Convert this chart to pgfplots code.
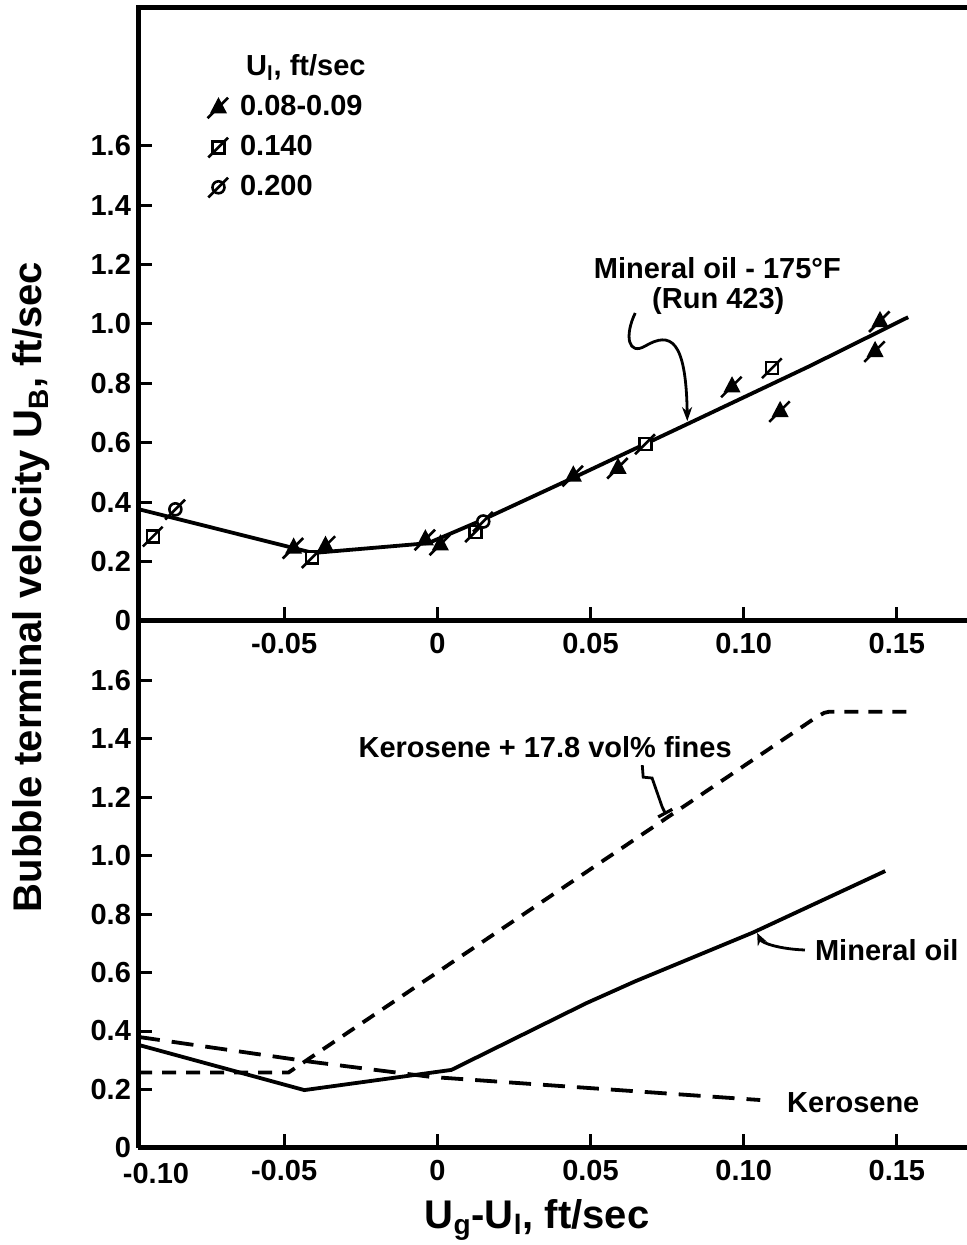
\documentclass[border=0pt]{standalone}
\usepackage{fontspec}
\setmainfont{Liberation Sans}
\usepackage{pgfplots}
\pgfplotsset{compat=1.18}
\usetikzlibrary{arrows.meta}

\newcommand{\tl}{\bfseries\fontsize{14.5}{17}\selectfont}
\newcommand{\al}{\bfseries\fontsize{20}{24}\selectfont}

\pgfdeclareplotmark{trislash}{%
  \pgfpathmoveto{\pgfpoint{0pt}{1.15\pgfplotmarksize}}%
  \pgfpathlineto{\pgfpoint{-\pgfplotmarksize}{-0.75\pgfplotmarksize}}%
  \pgfpathlineto{\pgfpoint{\pgfplotmarksize}{-0.75\pgfplotmarksize}}%
  \pgfpathclose
  \pgfusepathqfillstroke
  \pgfpathmoveto{\pgfpoint{-1.7\pgfplotmarksize}{-1.7\pgfplotmarksize}}%
  \pgfpathlineto{\pgfpoint{1.5\pgfplotmarksize}{1.5\pgfplotmarksize}}%
  \pgfusepathqstroke
}
\pgfdeclareplotmark{sqslash}{%
  \pgfpathrectanglecorners{\pgfpoint{-\pgfplotmarksize}{-\pgfplotmarksize}}{\pgfpoint{\pgfplotmarksize}{\pgfplotmarksize}}%
  \pgfusepathqfillstroke
  \pgfpathmoveto{\pgfpoint{-1.7\pgfplotmarksize}{-1.7\pgfplotmarksize}}%
  \pgfpathlineto{\pgfpoint{1.6\pgfplotmarksize}{1.6\pgfplotmarksize}}%
  \pgfusepathqstroke
}
\pgfdeclareplotmark{circslash}{%
  \pgfpathcircle{\pgfpointorigin}{\pgfplotmarksize}%
  \pgfusepathqfillstroke
  \pgfpathmoveto{\pgfpoint{-1.7\pgfplotmarksize}{-1.7\pgfplotmarksize}}%
  \pgfpathlineto{\pgfpoint{1.6\pgfplotmarksize}{1.6\pgfplotmarksize}}%
  \pgfusepathqstroke
}

\pgfplotsset{panel/.style={
  scale only axis, width=414.5pt,
  xmin=-0.0977, xmax=0.1729, ymin=0,
  axis x line*=bottom, axis y line*=left,
  axis line style={line width=2.5pt,-,black},
  tick align=inside,
  major tick length=7pt,
  every tick/.append style={line width=1.5pt,black},
  tick label style={font=\tl},
  xticklabel style={yshift=-2.5pt},
  ytick={0,0.2,0.4,0.6,0.8,1.0,1.2,1.4,1.6},
  yticklabels={0,0.2,0.4,0.6,0.8,1.0,1.2,1.4,1.6},
  clip=false,
}}

\begin{document}
\begin{tikzpicture}
% ---------------- bottom panel ----------------
\begin{axis}[panel, at={(0pt,0pt)}, anchor=south west, height=263.5pt, ymax=1.802,
  xtick={-0.05,0,0.05,0.10,0.15},
  xticklabels={-0.05,0,0.05,0.10,0.15},
  extra x ticks={-0.0977},
  extra x tick labels={-0.10},
  extra x tick style={xticklabel style={xshift=9pt, yshift=-1.5pt}}]
% Mineral oil
\addplot[line width=1.9pt, forget plot] coordinates {
 (-0.0977,0.353) (-0.0434,0.198) (0.0046,0.267) (0.0486,0.495)
 (0.0646,0.570) (0.1031,0.737) (0.1462,0.947)};
% Kerosene
\addplot[line width=1.9pt, dash pattern=on 11pt off 6pt, forget plot] coordinates {
 (-0.0977,0.380) (-0.0414,0.295) (-0.002,0.243) (0.1054,0.164)};
% Kerosene + 17.8 vol% fines
\addplot[line width=1.9pt, dash pattern=on 7pt off 5pt, forget plot] coordinates {
 (-0.0977,0.258) (-0.0486,0.258) (0.1237,1.473) (0.1263,1.488) (0.128,1.492) (0.1543,1.492)};
\node[font=\tl] at (axis cs:0.0352,1.371) {Kerosene + 17.8 vol\% fines};
\draw[line width=1.4pt] (axis cs:0.0669,1.309) -- (axis cs:0.0672,1.268) -- (axis cs:0.0701,1.265) -- (axis cs:0.0734,1.166) -- (axis cs:0.0744,1.145);
\draw[line width=1.6pt] (axis cs:0.0721,1.132) -- (axis cs:0.0767,1.158);
\node[font=\tl, anchor=west] at (axis cs:0.121,0.677) {Mineral oil};
\draw[line width=1.4pt, -{Stealth[length=6pt,width=5pt]}] (axis cs:0.120,0.677) .. controls (axis cs:0.112,0.680) and (axis cs:0.106,0.700) .. (axis cs:0.1044,0.735);
\node[font=\tl, anchor=west] at (axis cs:0.1119,0.154) {Kerosene};
\end{axis}
% ---------------- top panel ----------------
\begin{axis}[panel, at={(0pt,263.5pt)}, anchor=south west, height=306.5pt, ymax=2.064,
  xtick={-0.05,0,0.05,0.10,0.15},
  xticklabels={-0.05,0,0.05,0.10,0.15},
  legend style={draw=none, fill=none, at={(0.076,0.93)}, anchor=north west,
    font=\tl, row sep=4pt, column sep=5pt, inner sep=0pt,
    nodes={inner sep=1pt, text height=11pt, text depth=3pt}},
  legend cell align=left]
\addlegendimage{empty legend}
\addlegendentry{\hspace{3pt}U\textsubscript{l}, ft/sec}
\addlegendimage{only marks, mark=trislash, mark size=3.2pt, line width=1.3pt, mark options={fill=black}}
\addlegendentry{0.08-0.09}
\addlegendimage{only marks, mark=sqslash, mark size=3pt, line width=1.3pt, mark options={fill=white}}
\addlegendentry{0.140}
\addlegendimage{only marks, mark=circslash, mark size=3pt, line width=1.3pt, mark options={fill=white}}
\addlegendentry{0.200}
% fitted line
\addplot[line width=1.9pt, forget plot] coordinates {
 (-0.0977,0.377) (-0.0405,0.229) (-0.003,0.262) (0.014,0.337) (0.046,0.49)
 (0.0816,0.663) (0.1217,0.859) (0.1537,1.023)};
% U_l = 0.08-0.09
\addplot[only marks, mark=trislash, mark size=3.2pt, line width=1.3pt, mark options={fill=black}, forget plot] coordinates {
 (-0.0469,0.247) (-0.0365,0.253) (-0.0039,0.275) (0.001,0.258) (0.0444,0.490)
 (0.059,0.516) (0.0962,0.790) (0.1119,0.707) (0.1429,0.909) (0.1445,1.010)};
% U_l = 0.140
\addplot[only marks, mark=sqslash, mark size=3pt, line width=1.3pt, mark options={fill=white}, forget plot] coordinates {
 (-0.0928,0.285) (-0.0409,0.213) (0.0124,0.300) (0.0679,0.596) (0.1093,0.852)};
% U_l = 0.200
\addplot[only marks, mark=circslash, mark size=3pt, line width=1.3pt, mark options={fill=white}, forget plot] coordinates {
 (-0.0855,0.376) (0.015,0.335)};
\draw[line width=2.5pt, line cap=rect] (rel axis cs:0,1) -- (rel axis cs:1,1);
\node[font=\tl] at (axis cs:0.0914,1.189) {Mineral oil - 175°F};
\node[font=\tl] at (axis cs:0.0917,1.077) {(Run 423)};
\draw[line width=1.4pt, -{Stealth[length=7pt,width=5pt]}] (axis cs:0.0646,1.037) .. controls (axis cs:0.061,0.960) and (axis cs:0.0623,0.892) .. (axis cs:0.0679,0.926) .. controls (axis cs:0.0760,0.975) and (axis cs:0.0812,0.950) .. (axis cs:0.0816,0.673);
\end{axis}
% axis labels
\node[rotate=90, anchor=base, font=\al] at (-48pt,280.5pt) {Bubble terminal velocity U\textsubscript{B}, ft/sec};
\node[anchor=base, font=\al] at (199.5pt,-40pt) {U\textsubscript{g}-U\textsubscript{l}, ft/sec};
\pgfresetboundingbox
\path[use as bounding box] (-69pt,-48.5pt) rectangle (414.5pt,574pt);
\end{tikzpicture}
\end{document}
